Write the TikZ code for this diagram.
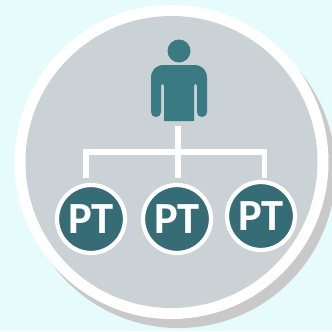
\documentclass[tikz,border=0pt]{standalone}
\usepackage{fontspec}
\setsansfont{Carlito}
\usepackage{xcolor}
\definecolor{paleback}{HTML}{E6FBFC}
\definecolor{shadowgray}{HTML}{C9C9C9}
\definecolor{discgray}{HTML}{CBD2D5}
\definecolor{personteal}{HTML}{3A7A82}
\definecolor{badgeteal}{HTML}{366C75}
\tikzset{
  wire/.style={draw=white,line width=4.8pt},
  badge/.style={circle,fill=badgeteal,draw=white,line width=3.6pt,inner sep=0pt,minimum size=58pt,text=white,font=\sffamily\bfseries\fontsize{38}{38}\selectfont}
}
\begin{document}
\begin{tikzpicture}[x=0.03cm,y=-0.03cm]
  \useasboundingbox (0,0) rectangle (332,331);
  \fill[paleback] (0,0) rectangle (332,331);
  % disc
  \fill[shadowgray] (178.5,171) circle (157);
  \fill[white] (171.5,162) circle (157);
  \fill[discgray] (171.5,162) circle (146);
  % person
  \fill[personteal] (179,51) circle (11.5);
  \fill[personteal] (164,121) -- (164,87)
    .. controls (164,85) and (163.5,84) .. (162.5,84)
    .. controls (161.5,84) and (161,85) .. (161,87) -- (161,112)
    .. controls (161,115) and (159,117) .. (156,117)
    .. controls (153,117) and (151,115) .. (151,112) -- (151,78)
    .. controls (151,70) and (156,65) .. (164,65) -- (194,65)
    .. controls (202,65) and (207,70) .. (207,78) -- (207,112)
    .. controls (207,115) and (205,117) .. (202,117)
    .. controls (199,117) and (197,115) .. (197,112) -- (197,87)
    .. controls (197,85) and (196.5,84) .. (195.5,84)
    .. controls (194.5,84) and (194,85) .. (194,87) -- (194,121) -- cycle;
  % connectors
  \coordinate (boss) at (178,126);
  \coordinate (hub) at (178,152);
  \coordinate (tapA) at (86,178);
  \coordinate (tapB) at (178,178);
  \coordinate (tapC) at (264.5,178);
  \draw[wire] (tapA) |- (hub) -| (tapC);
  \draw[wire] (boss) -- (tapB);
  % badges
  \node[badge] (ptA) at (91,219) {PT};
  \node[badge] (ptB) at (177,219) {PT};
  \node[badge] (ptC) at (261,216) {PT};
\end{tikzpicture}
\end{document}
